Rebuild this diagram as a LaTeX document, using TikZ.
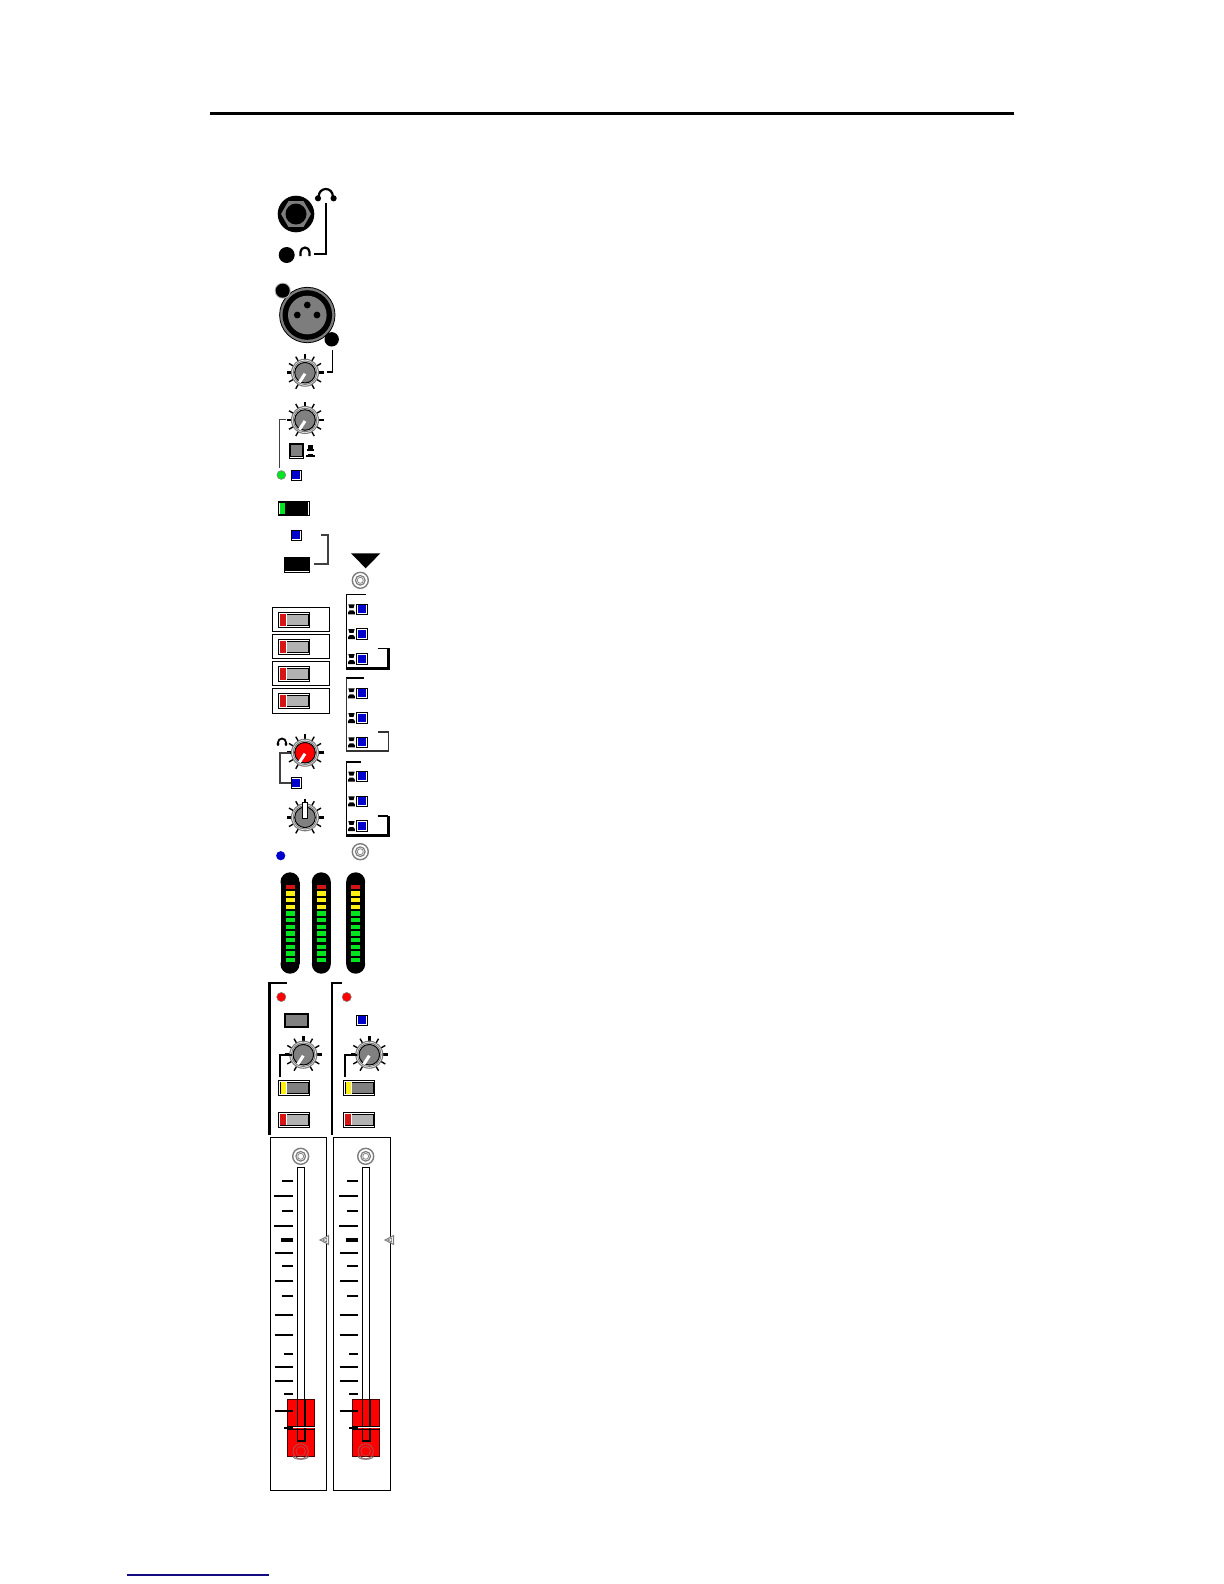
\documentclass[tikz,border=0pt]{standalone}
\definecolor{dial}{RGB}{128,128,128}
\definecolor{body}{RGB}{178,178,178}
\definecolor{ringc}{RGB}{125,125,125}
\definecolor{redc}{RGB}{215,20,20}
\definecolor{purered}{RGB}{255,0,0}
\definecolor{greenc}{RGB}{0,230,30}
\definecolor{bluec}{RGB}{0,0,205}
\definecolor{yellowc}{RGB}{255,240,20}
\definecolor{navyc}{RGB}{20,10,130}
\tikzset{
  px/.style={line width=#1*0.01cm},
  wire/.style={px=1.6,draw=black,line cap=butt,line join=miter},
  heavy/.style={px=3,draw=black,line join=miter},
  dialpic/.pic={
    \foreach \a in {-150,-120,...,150}{\draw[px=1.4] (\a-90:13) -- (\a-90:18.5);}
    \draw[px=2.6] (-180:12) -- (-180:18.5);
    \draw[px=2.6] (0:12) -- (0:18.5);
    \draw[px=2.6] (-90:12) -- (-90:18.5);
    \draw[px=1.1,ringc,fill=white] (0,0) circle (13.5);
    \draw[px=1,ringc] (0,0) circle (11.8);
    \fill[#1,draw=black,px=1] (0,0) circle (10.3);
  },
  slashpic/.pic={\draw[white,px=3] (0,1) -- (-5.5,9.5);},
  uppic/.pic={\draw[black,fill=white,px=1] (-2.2,1) rectangle (2.2,-15);},
  bluesq/.pic={
    \draw[black,px=.9,fill=white] (-5.2,-5.2) rectangle (5.2,5.2);
    \fill[bluec] (-4.4,-4.4) rectangle (3.6,3.6);
  },
  screwpic/.pic={
    \draw[ringc,px=1.4,fill=white] (0,0) circle (8);
    \draw[ringc,px=1.2] (0,0) circle (4.8);
    \draw[gray,px=.7] (0,0) circle (3);
  },
  switchpic/.pic={
    \draw[black,fill=white,px=1] (0,0) rectangle (31.4,15);
    \fill[#1] (1.8,1.7) rectangle (29.8,13.4);
    \draw[black,px=.8] (1.8,1.7) rectangle (29.8,13.4);
  },
  capred/.pic={\fill[redc] (2,1.9) rectangle (7.3,13.2); \draw[white,px=.8] (7.6,2) -- (7.6,13.2);},
  capyel/.pic={\fill[yellowc] (2.2,1.9) rectangle (7.3,13.2); \draw[white,px=.8] (7.6,2) -- (7.6,13.2);},
  stackpic/.pic={
    \fill (-3.2,-5) -- (3.2,-5) -- (2,-1.2) -- (-2,-1.2) -- cycle;
    \fill (-3.4,5) -- (3.4,5) -- (3.4,3) -- (1.8,1) -- (-1.8,1) -- (-3.4,3) -- cycle;
  },
  meterpic/.pic={
    \fill[black] (-9.5,9.5) rectangle (9.5,91.9);
    \fill[black] (0,9.5) circle (9.5);
    \fill[black] (0,91.9) circle (9.5);
    \fill[redc] (-4.5,12.4) rectangle (4.5,16.6);
    \foreach \i in {1,2,3}{\fill[yellowc] (-4.5,12.4+6.67*\i) rectangle (4.5,16.6+6.67*\i);}
    \foreach \i in {4,...,11}{\fill[greenc] (-4.5,12.4+6.67*\i) rectangle (4.5,16.6+6.67*\i);}
  },
  faderpic/.pic={
    \foreach \y/\l/\t in {1180.7/11/1.8,1196/19/2,1211/11/2,1225.7/19/2,1240/12/3.2,1253/18/2,1266.3/11/2,1281/18/2,1295.7/11/2,1315/18/2,1334.7/18/2.2,1354/9/2,1367/18/1.2,1381/18/2.2,1394/9/2,1410.7/18/2}
      {\draw[black,px=\t] (23,\y) -- (23-\l,\y);}
    \draw[black,px=1.3,fill=white] (27,1167.3) rectangle (34.4,1441);
    \fill[purered,draw=black!70!red,px=1] (17,1399) rectangle (44.4,1456.3);
    \draw[black,px=1.6] (27,1399) -- (27,1441) -- (34.4,1441) -- (34.4,1399);
    \draw[white,px=1.4] (17,1427.7) -- (44.4,1427.7);
    \draw[black,px=.5] (17,1426.6) -- (44.4,1426.6);
    \draw[black,px=.5] (17,1428.8) -- (44.4,1428.8);
    \draw[black,px=2.2] (14,1427.7) -- (23,1427.7);
    \draw[black,px=2] (5,1410.7) -- (23,1410.7);
    \draw[gray!60!red,px=.9] (30.4,1451.3) circle (7.6);
    \draw[gray!60!red,px=.7] (30.4,1451.3) circle (4.8);
    \draw[ringc,px=1] (22.8,1456.3) arc (180:0:7.6 and 3);
    \pic at (30.4,1156.3) {screwpic};
    \draw[ringc,px=1,fill=white] (49.7,1240) -- (58.4,1235.5) -- (58.4,1244.5) -- cycle;
    \draw[ringc,px=.7] (52.5,1240) -- (56.5,1238) -- (56.5,1242) -- cycle;
  },
}
\begin{document}
\begin{tikzpicture}[x=0.01cm,y=-0.01cm]
\useasboundingbox (0,0) rectangle (1224,1584);
% rules
\draw[black,px=3] (210,113) -- (1014,113);
\draw[navyc,px=1.4] (127,1575) -- (269,1575);
% TRS jack
\fill[black] (296,214) circle (18.3);
\fill[ringc] (296,214) +(0:15) -- +(60:15) -- +(120:15) -- +(180:15) -- +(240:15) -- +(300:15) -- cycle;
\fill[black] (296,214) circle (10.5);
% headphones large
\draw[black,px=2.2] (318.8,196) arc (180:360:7 and 7);
\fill[black] (318,198.3) circle (3.1);
\fill[black] (333.6,198.3) circle (3.1);
\draw[wire,px=2] (326,203) -- (326,254) -- (314,254);
% small jack and headphones
\fill[black] (286.7,255) circle (8);
\draw[black,px=2.2] (300.5,256) -- (300.5,252) arc (180:360:4.5) -- (309.5,256);
% XLR
\fill[ringc,draw=black,px=.8] (307.3,315) circle (27.7);
\fill[black] (307.3,315) circle (24.8);
\fill[ringc] (307.3,315) circle (19.3);
\foreach \p in {(307.3,305),(297.3,315),(317,315)}{\fill[black] \p circle (3.4);}
\fill[ringc!60] (282.7,290.7) circle (8);
\fill[black] (282.7,290.7) circle (7);
\fill[black] (331.7,339.3) circle (7.2);
% knob 1
\pic at (305,372.7) {dialpic=dial};
\pic at (305,372.7) {slashpic};
\draw[wire] (332.3,350) -- (332.3,372) -- (327.3,372);
% knob 2
\pic at (305,420) {dialpic=dial};
\pic at (305,420) {slashpic};
\draw[wire,draw=black!75] (286,419.3) -- (279.3,419.3) -- (279.3,468);
% push button
\draw[black,px=1,fill=white] (289,443.3) rectangle (303.7,458.7);
\fill[black] (289,443.3) rectangle (303.7,457);
\fill[dial] (290.8,445.2) rectangle (302.3,456);
\fill[black] (306.5,449.2) rectangle (314,451);
\fill[black] (308,444.5) rectangle (312.5,449.2);
\fill[black] (306,455.2) rectangle (314.5,457);
\fill[black] (307.5,453.8) rectangle (313,455.2);
% LED and sq
\fill[greenc,draw=gray,px=.6] (281.3,475) circle (4.4);
\pic at (296.3,475.3) {bluesq};
% black switch
\fill[black] (278.3,501.3) rectangle (309.7,515.7);
\fill[greenc] (280.2,503.2) rectangle (285.3,514);
\draw[white,px=.8] (279.7,503) -- (279.7,514);
\draw[white,px=.9] (308.2,502) -- (308.2,515);
\pic at (296.3,535.3) {bluesq};
% black button
\draw[black,px=1,fill=white] (284,557.3) rectangle (309,572.7);
\fill[black] (284,557.3) rectangle (309,571);
\draw[wire,draw=black!75] (321.3,534.7) -- (327.7,534.7) -- (327.7,564) -- (313.7,564);
% triangle
\fill[black] (351,553.3) -- (380.3,553.3) -- (365.7,568.3) -- cycle;
\pic at (360.3,580.3) {screwpic};
% red switch boxes
\foreach \a/\b in {607.3/631.7,634.3/658.7,661.3/685.7,688.3/713.3}{
  \draw[black,px=1.1] (272.3,\a) rectangle (329.7,\b);
  \pic at (278.3,\a+5) {switchpic=body};
  \pic at (278.3,\a+5) {capred};
}
% send groups
\draw[wire,px=1.3] (365.7,594.3) -- (346.3,594.3) -- (346.3,668);
\draw[heavy] (346.3,668) -- (388.3,668) -- (388.3,648.3);
\draw[wire,px=1.6] (388.3,648.3) -- (378.3,648.3);
\draw[wire,px=2.2] (364,677.7) -- (346.3,677.7);
\draw[wire,px=1.3,draw=black!80] (346.3,677.7) -- (346.3,751) -- (388.3,751) -- (388.3,732) -- (378.3,732);
\draw[wire,px=2] (360.7,762) -- (346.3,762);
\draw[wire,px=1.5] (346.3,762) -- (346.3,835);
\draw[heavy] (346.3,835) -- (388.3,835) -- (388.3,815.7);
\draw[wire,px=2] (388.3,815.7) -- (378.3,815.7);
\foreach \y in {609.3,634,659,693.3,718,742.3,776.7,801.3,826}{
  \pic at (362,\y) {bluesq};
  \pic at (351.5,\y) {stackpic};
}
% phones level
\draw[black,px=1.8] (278,745.5) -- (278,742.5) arc (180:360:4) -- (286,745.5);
\fill[black] (278,744) circle (1.7);
\fill[black] (286,744) circle (1.7);
\pic at (305,752.7) {dialpic=purered};
\pic at (305,752.7) {slashpic};
\draw[wire,draw=black!75] (290,752.7) -- (280,752.7) -- (280,783) -- (290.7,783);
\pic at (296.3,783) {bluesq};
% centre knob
\pic at (305,817.3) {dialpic=dial};
\pic at (305,817.3) {uppic};
% blue led, screw
\fill[bluec] (280.7,855.7) circle (4.6);
\pic at (360.3,851.7) {screwpic};
% meters
\pic at (290,872.3) {meterpic};
\pic at (321.3,872.3) {meterpic};
\pic at (355.7,872.3) {meterpic};
% channel brackets
\draw[heavy,px=2.4] (286.7,983) -- (269.3,983) -- (269.3,1134.7);
\draw[heavy,px=2.4] (341.7,983) -- (331.7,983) -- (331.7,1134.7);
\fill[purered,draw=gray,px=.5] (281.3,997) circle (4.6);
\fill[purered,draw=gray,px=.5] (346.7,997) circle (4.6);
% mute button / blue
\fill[dial,draw=black,px=2] (285,1014.3) rectangle (308,1027);
\pic at (362,1020.3) {bluesq};
% knobs
\pic at (303.3,1054.7) {dialpic=dial};
\pic at (303.3,1054.7) {slashpic};
\pic at (369.3,1054.7) {dialpic=dial};
\pic at (369.3,1054.7) {slashpic};
\draw[wire,px=2] (291.7,1054.7) -- (280,1054.7) -- (280,1076.7);
\draw[wire,px=2] (357,1054.7) -- (345,1054.7) -- (345,1076.7);
% yellow and red switches
\pic at (278.3,1080.3) {switchpic=dial};
\pic at (278.3,1080.3) {capyel};
\pic at (343.3,1080.3) {switchpic=dial};
\pic at (343.3,1080.3) {capyel};
\pic at (278.3,1112.2) {switchpic=body};
\pic at (278.3,1112.2) {capred};
\pic at (343.3,1112.2) {switchpic=body};
\pic at (343.3,1112.2) {capred};
% faders
\draw[black,px=1.2] (270.3,1137.3) rectangle (326.3,1490.3);
\draw[black,px=1.2] (333.3,1137.3) rectangle (390.3,1490.3);
\pic at (270.3,0) {faderpic};
\pic at (335.3,0) {faderpic};
\end{tikzpicture}
\end{document}
